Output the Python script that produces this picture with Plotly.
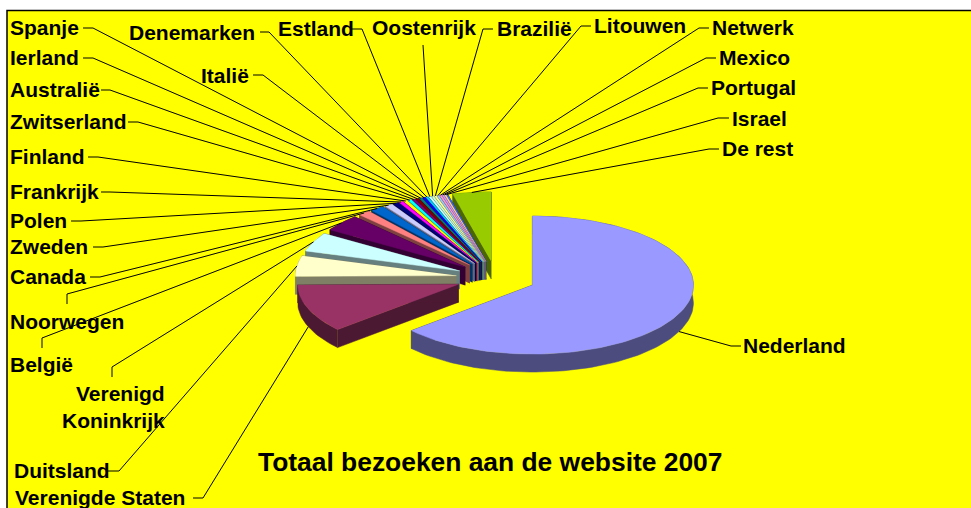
import math
import plotly.graph_objects as go

countries = ["Nederland", "Verenigde Staten", "Duitsland", "Verenigd Koninkrijk", "België", "Noorwegen",
             "Canada", "Zweden", "Polen", "Frankrijk", "Finland", "Zwitserland", "Australië", "Ierland",
             "Spanje", "Italië", "Denemarken", "Estland", "Oostenrijk", "Brazilië", "Litouwen", "Netwerk",
             "Mexico", "Portugal", "Israel", "De rest"]
share = [63.7, 11.3, 4.85, 4.45, 3.9, 1.25, 1.4, 0.8, 0.55, 0.42, 0.38, 0.35, 0.32, 0.3, 0.28, 0.27,
         0.25, 0.24, 0.23, 0.22, 0.21, 0.2, 0.19, 0.18, 0.15, 3.85]
colors = ["#9999FF", "#993366", "#FFFFCC", "#CCFFFF", "#660066", "#FF8080", "#0066CC", "#CCCCFF", "#000080",
          "#FF00FF", "#FFFF00", "#00FFFF", "#800080", "#800000", "#008080", "#0000FF", "#00CCFF", "#CCFFFF",
          "#CCFFCC", "#FFFF99", "#99CCFF", "#FF99CC", "#CC99FF", "#FFCC99", "#3366FF", "#99CC00"]
title_text = "Totaal bezoeken aan de website 2007"

# label layout: name -> (text x, text y, anchor, leader start, leader elbow)
label_layout = {
    "Spanje": (8, 27, "left", (83, 28), (93, 28)),
    "Ierland": (8, 57, "left", (83, 58), (93, 58)),
    "Australië": (8, 89, "left", (101, 90), (110, 90)),
    "Zwitserland": (8, 121, "left", (128, 122), (138, 122)),
    "Finland": (8, 156, "left", (88, 157), (98, 157)),
    "Frankrijk": (8, 191, "left", (101, 192), (110, 192)),
    "Polen": (8, 220, "left", (71, 221), (81, 221)),
    "Zweden": (8, 246, "left", (93, 247), (103, 247)),
    "Canada": (8, 276, "left", (90, 277), (100, 277)),
    "Noorwegen": (8, 321, "left", (67, 304), (67, 294)),
    "België": (8, 364, "left", (42, 348), (42, 338)),
    "Verenigd Koninkrijk": (113, 407, "center", (112, 377), (112, 367)),
    "Duitsland": (12, 470, "left", (108, 471), (119, 471)),
    "Verenigde Staten": (13, 497, "left", (193, 498), (203, 498)),
    "Italië": (199, 75, "left", (253, 75), (263, 75)),
    "Denemarken": (127, 32, "left", (260, 32), (269, 32)),
    "Estland": (276, 28, "left", (352, 29), (362, 29)),
    "Oostenrijk": (370, 27, "left", (423, 45), None),
    "Brazilië": (495, 28, "left", (493, 29), (483, 29)),
    "Litouwen": (592, 25, "left", (591, 26), (581, 26)),
    "Netwerk": (710, 27, "left", (709, 28), (699, 28)),
    "Mexico": (717, 57, "left", (716, 58), (706, 58)),
    "Portugal": (709, 87, "left", (708, 88), (698, 88)),
    "Israel": (730, 118, "left", (729, 118), (718, 118)),
    "De rest": (720, 148, "left", (719, 149), (709, 149)),
    "Nederland": (741, 345, "left", (741, 346), (731, 346)),
}

CX, CY, RX, RY, EXPLODE, DEPTH = 496.0, 278.0, 161.0, 69.0, 40.0, 18.0
total = sum(share)


def shade(hex_color):
    r, g, b = (int(hex_color[i:i + 2], 16) // 2 for i in (1, 3, 5))
    return f"#{r:02x}{g:02x}{b:02x}"


slices = []
start = 0.0
for name, value, color in zip(countries, share, colors):
    sweep = value / total * 2 * math.pi
    end = start + sweep
    mid = (start + end) / 2
    cx = CX + EXPLODE * math.sin(mid)
    cy = CY - EXPLODE * RY / RX * math.cos(mid)
    n = max(2, int(sweep / 0.03))
    arc = [(cx + RX * math.sin(start + sweep * i / n), cy - RY * math.cos(start + sweep * i / n))
           for i in range(n + 1)]
    slices.append(dict(name=name, color=color, mid=mid, cx=cx, cy=cy, arc=arc))
    start = end

fig = go.Figure()


def poly(points, color, name):
    fig.add_trace(go.Scatter(x=[p[0] for p in points], y=[p[1] for p in points], mode="lines",
                             fill="toself", fillcolor=color, line=dict(color=color, width=0.5),
                             hoverinfo="skip", name=name, showlegend=False))


for s in sorted(slices, key=lambda item: item["cy"]):
    apex = (s["cx"], s["cy"])
    wall = shade(s["color"])
    arc = s["arc"]
    for a, b in ((apex, arc[0]), (apex, arc[-1])):
        poly([a, b, (b[0], b[1] + DEPTH), (a[0], a[1] + DEPTH)], wall, s["name"])
    poly(arc + [(x, y + DEPTH) for x, y in reversed(arc)], wall, s["name"])
    poly([apex] + arc, s["color"], s["name"])

annotations = []
for s in slices:
    tx, ty, anchor, lead, elbow = label_layout[s["name"]]
    end_x = s["cx"] + RX * math.sin(s["mid"])
    end_y = s["cy"] - RY * math.cos(s["mid"])
    if math.cos(s["mid"]) < 0:
        end_y += DEPTH
    pts = [lead] + ([elbow] if elbow else []) + [(end_x, end_y)]
    fig.add_trace(go.Scatter(x=[p[0] for p in pts], y=[p[1] for p in pts], mode="lines",
                             line=dict(color="#000000", width=1), hoverinfo="skip", showlegend=False))
    text = "Verenigd<br>Koninkrijk" if s["name"] == "Verenigd Koninkrijk" else s["name"]
    annotations.append(dict(x=tx, y=ty, xref="x", yref="y", text=text, showarrow=False, xanchor=anchor,
                            yanchor="middle", align="right",
                            font=dict(family="Liberation Sans", size=21, color="#000000", weight="bold")))

annotations.append(dict(x=256, y=462, xref="x", yref="y", text=title_text, showarrow=False, xanchor="left",
                        yanchor="middle",
                        font=dict(family="Liberation Sans", size=26.4, color="#000000", weight="bold")))

fig.update_layout(
    width=971, height=508, margin=dict(l=0, r=0, t=0, b=0), paper_bgcolor="#FFFFFF", plot_bgcolor="#FFFFFF",
    xaxis=dict(range=[0, 971], visible=False, fixedrange=True),
    yaxis=dict(range=[508, 0], visible=False, fixedrange=True),
    showlegend=False, annotations=annotations,
    shapes=[dict(type="rect", xref="x", yref="y", x0=7, y0=10.5, x1=980, y1=520, fillcolor="#FFFF00",
                 line=dict(color="#000000", width=1.5), layer="below")],
)
fig.write_html("out.html", config={"displayModeBar": False},
               post_script="document.body.style.margin='0';document.body.style.overflow='hidden';")
